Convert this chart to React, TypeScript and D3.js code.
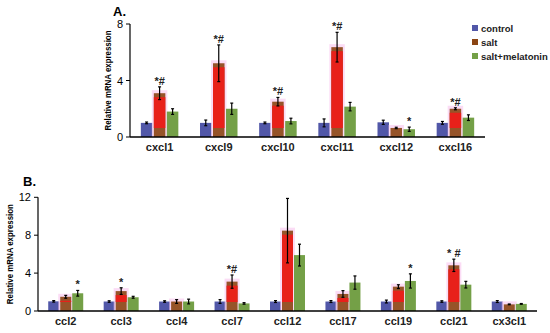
import React from "react";
import * as d3 from "d3";

// panel A: cxcl chemokines
const catsA = ["cxcl1", "cxcl9", "cxcl10", "cxcl11", "cxcl12", "cxcl16"];
const controlA = [1.0, 1.0, 1.0, 1.0, 1.04, 1.0];
const controlErrA = [0.06, 0.2, 0.06, 0.28, 0.15, 0.1];
const saltA = [3.1, 5.22, 2.5, 6.36, 0.64, 2.0];
const saltErrA = [0.45, 1.3, 0.3, 1.05, 0.05, 0.07];
const melA = [1.8, 2.0, 1.13, 2.15, 0.55, 1.37];
const melErrA = [0.2, 0.4, 0.2, 0.3, 0.15, 0.2];
const sigA = [
  ["", "*#", ""],
  ["", "*#", ""],
  ["", "*#", ""],
  ["", "*#", ""],
  ["", "", "*"],
  ["", "*#", ""],
];
const ticksA = [0, 4, 8];

// panel B: ccl chemokines
const catsB = ["ccl2", "ccl3", "ccl4", "ccl7", "ccl12", "ccl17", "ccl19", "ccl21", "cx3cl1"];
const controlB = [1.02, 1.0, 1.0, 1.0, 1.0, 1.0, 1.0, 1.0, 1.0];
const controlErrB = [0.08, 0.08, 0.08, 0.2, 0.1, 0.1, 0.15, 0.08, 0.1];
const saltB = [1.5, 2.1, 1.0, 3.1, 8.48, 1.8, 2.57, 4.82, 0.7];
const saltErrB = [0.15, 0.35, 0.2, 0.7, 3.4, 0.35, 0.2, 0.65, 0.04];
const melB = [1.87, 1.45, 1.0, 0.8, 5.9, 3.0, 3.17, 2.78, 0.75];
const melErrB = [0.3, 0.1, 0.25, 0.08, 1.15, 0.7, 0.75, 0.35, 0.04];
const sigB = [
  ["", "", "*"],
  ["", "*", ""],
  ["", "", ""],
  ["", "*#", ""],
  ["", "", ""],
  ["", "", ""],
  ["", "", "*"],
  ["", "* #", ""],
  ["", "", ""],
];
const ticksB = [0, 4, 8, 12];

const seriesNames = ["control", "salt", "salt+melatonin"];
const colors = ["#5157a8", "#8b4513", "#74a047"];
const saltRed = "#e8201a";
const font = "Arial, 'Liberation Sans', sans-serif";

type PanelProps = {
  label: string;
  labelX: number;
  labelY: number;
  cats: string[];
  values: number[][];
  errs: number[][];
  sig: string[][];
  ticks: number[];
  x0: number;
  x1: number;
  y0: number;
  y1: number;
  barW: number;
  step: number;
  yLabelX: number;
};

function Panel(p: PanelProps) {
  const x = d3.scaleBand<string>().domain(p.cats).range([p.x0, p.x1]).padding(0);
  const y = d3.scaleLinear().domain([0, p.ticks[p.ticks.length - 1]]).range([p.y0, p.y1]);
  const offsets = [-p.step, 0, p.step];
  const mid = (p.y0 + p.y1) / 2;
  return (
    <g>
      <text x={p.labelX} y={p.labelY} fontSize={13} fontWeight="bold" fontFamily={font}>{p.label}</text>
      <text
        transform={`translate(${p.yLabelX},${mid}) rotate(-90)`}
        textAnchor="middle"
        fontSize={9}
        fontWeight="bold"
        fontFamily={font}
        textLength={100}
        lengthAdjust="spacingAndGlyphs"
      >Relative mRNA expression</text>
      {p.ticks.map(t => (
        <g key={t}>
          <line x1={p.x0 - 4} x2={p.x0} y1={y(t)} y2={y(t)} stroke="#000" strokeWidth={1} />
          <text x={p.x0 - 7} y={y(t) + 4} textAnchor="end" fontSize={11} fontFamily={font}>{t}</text>
        </g>
      ))}
      {p.cats.map((c, i) => {
        const cx = (x(c) as number) + x.bandwidth() / 2;
        return (
          <g key={c}>
            {p.values.map((vals, s) => {
              const bx = cx + offsets[s] - p.barW / 2;
              const top = y(vals[i]);
              const h = p.y0 - top;
              const e = p.errs[s][i];
              const eTop = y(vals[i] + e);
              const eBot = y(vals[i] - e);
              return (
                <g key={s}>
                  {s === 1 ? (
                    <g>
                      <rect x={bx - 2} y={top - 3} width={p.barW + 4} height={h + 3} fill="#f9c4ee" opacity={0.6} />
                      <rect x={bx} y={top} width={p.barW} height={h} fill={colors[1]} opacity={0.9} />
                      {h > 10 && (
                        <rect x={bx} y={top + 4} width={p.barW} height={Math.max(0, h - 13)} fill={saltRed} />
                      )}
                    </g>
                  ) : (
                    <rect x={bx} y={top} width={p.barW} height={h} fill={colors[s]} />
                  )}
                  <line x1={cx + offsets[s]} x2={cx + offsets[s]} y1={eTop} y2={eBot} stroke="#000" strokeWidth={1.2} />
                  <line x1={cx + offsets[s] - 1.5} x2={cx + offsets[s] + 1.5} y1={eTop} y2={eTop} stroke="#000" strokeWidth={1.2} />
                  <line x1={cx + offsets[s] - 1.5} x2={cx + offsets[s] + 1.5} y1={eBot} y2={eBot} stroke="#000" strokeWidth={1.2} />
                  {p.sig[i][s] && (
                    <text x={cx + offsets[s]} y={eTop - 2} textAnchor="middle" fontSize={11} fontWeight="bold" fontFamily={font} fill="#222">
                      {p.sig[i][s]}
                    </text>
                  )}
                </g>
              );
            })}
            <text x={cx} y={p.y0 + 14} textAnchor="middle" fontSize={11} fontWeight="bold" fontFamily={font} fill="#222">{c}</text>
          </g>
        );
      })}
      <line x1={p.x0} x2={p.x0} y1={p.y0} y2={p.y1} stroke="#000" strokeWidth={1.2} />
      <line x1={p.x0} x2={p.x1} y1={p.y0} y2={p.y0} stroke="#000" strokeWidth={1.5} />
    </g>
  );
}

export default function App() {
  return (
    <svg width={550} height={333} style={{ position: "absolute", left: 0, top: 0, background: "#fff" }}>
      <Panel
        label="A." labelX={113} labelY={16}
        cats={catsA} values={[controlA, saltA, melA]} errs={[controlErrA, saltErrA, melErrA]} sig={sigA}
        ticks={ticksA} x0={130} x1={485} y0={137} y1={24} barW={11.5} step={13} yLabelX={111}
      />
      <Panel
        label="B." labelX={23} labelY={186}
        cats={catsB} values={[controlB, saltB, melB]} errs={[controlErrB, saltErrB, melErrB]} sig={sigB}
        ticks={ticksB} x0={38} x1={537} y0={311} y1={197.3} barW={11} step={12} yLabelX={13}
      />
      {seriesNames.map((n, i) => (
        <g key={n}>
          <rect x={472} y={25 + i * 14} width={6} height={6} fill={colors[i]} />
          <text x={481} y={32 + i * 14} fontSize={9.5} fontWeight="bold" fontFamily={font} fill="#222">{n}</text>
        </g>
      ))}
    </svg>
  );
}
